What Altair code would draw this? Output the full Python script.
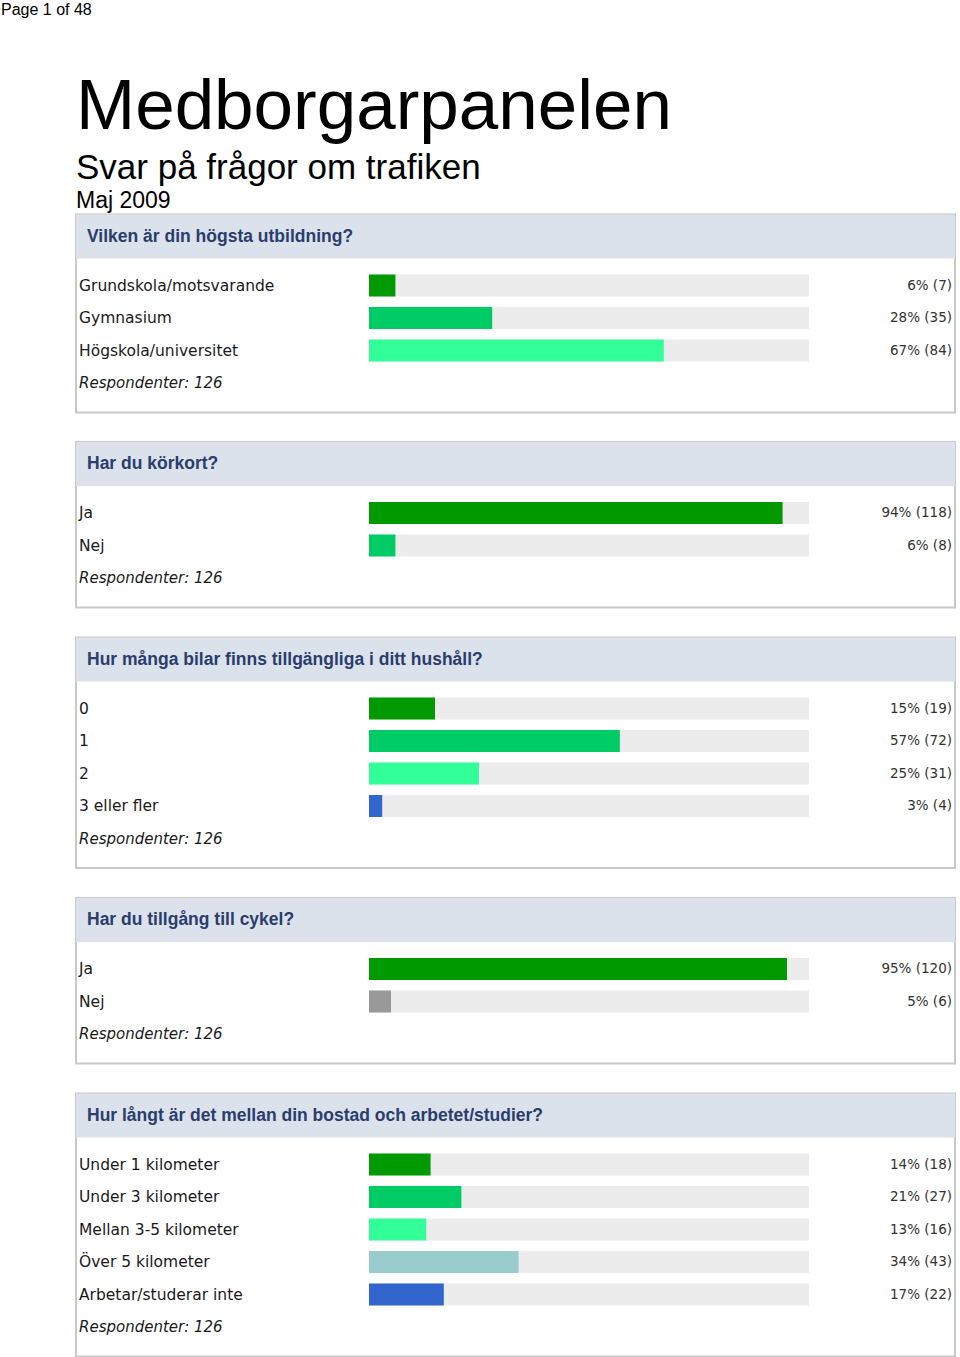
import altair as alt
import pandas as pd

# ---------------- text ----------------
page_label = "Page 1 of 48"
main_title = "Medborgarpanelen"
sub_title = "Svar på frågor om trafiken"
date_label = "Maj 2009"
respondents = 126

# ---------------- data ----------------
q1 = "Vilken är din högsta utbildning?"
q1_labels = ["Grundskola/motsvarande", "Gymnasium", "Högskola/universitet"]
q1_pct = [6, 28, 67]
q1_count = [7, 35, 84]

q2 = "Har du körkort?"
q2_labels = ["Ja", "Nej"]
q2_pct = [94, 6]
q2_count = [118, 8]

q3 = "Hur många bilar finns tillgängliga i ditt hushåll?"
q3_labels = ["0", "1", "2", "3 eller fler"]
q3_pct = [15, 57, 25, 3]
q3_count = [19, 72, 31, 4]

q4 = "Har du tillgång till cykel?"
q4_labels = ["Ja", "Nej"]
q4_pct = [95, 5]
q4_count = [120, 6]

q5 = "Hur långt är det mellan din bostad och arbetet/studier?"
q5_labels = ["Under 1 kilometer", "Under 3 kilometer", "Mellan 3-5 kilometer",
             "Över 5 kilometer", "Arbetar/studerar inte"]
q5_pct = [14, 21, 13, 34, 17]
q5_count = [18, 27, 16, 43, 22]

# ---------------- styles ----------------
DG, G, LG, BL, GR, TE = "#009900", "#00cc66", "#33ff99", "#3366cc", "#999999", "#99cccc"
q1_colors = [DG, G, LG]
q2_colors = [DG, G]
q3_colors = [DG, G, LG, BL]
q4_colors = [DG, GR]
q5_colors = [DG, G, LG, TE, BL]

PANEL_W = 879
ROW_STEP = 32.5
FIRST_ROW = 71
LABEL_FONT = "DejaVu Sans"


def panel(question, labels, pct, counts, colors):
    n = len(labels)
    height = FIRST_ROW + ROW_STEP * n + 29.5
    df = pd.DataFrame({
        "row": list(range(n)),
        "label": labels,
        "pct": pct,
        "full": [100] * n,
        "txt": [f"{p}% ({c})" for p, c in zip(pct, counts)],
    })
    resp = pd.DataFrame({"row": [n], "txt": [f"Respondenter: {respondents}"]})
    head = pd.DataFrame({"q": [question]})

    ys = alt.Scale(domain=[0, 1], range=[FIRST_ROW, FIRST_ROW + ROW_STEP],
                   zero=False, nice=False, padding=0)
    xs = alt.Scale(domain=[0, 100], range=[293, 733], zero=True, nice=False, padding=0)
    Y = alt.Y("row:Q", scale=ys, axis=None)

    band = alt.Chart(head).mark_rect(color="#dce2ec").encode(
        x=alt.value(0), x2=alt.value(PANEL_W), y=alt.value(0), y2=alt.value(44))
    qtext = alt.Chart(head).mark_text(
        align="left", baseline="middle", font="Liberation Sans", fontWeight="bold",
        fontSize=17.5, color="#2a3d6c").encode(
        x=alt.value(11), y=alt.value(22), text="q:N")

    track = alt.Chart(df).mark_bar(orient="horizontal", size=22, color="#ececec").encode(
        x=alt.X("full:Q", scale=xs, axis=None), y=Y)
    bars = alt.Chart(df).mark_bar(orient="horizontal", size=22).encode(
        x=alt.X("pct:Q", scale=xs, axis=None), y=Y,
        color=alt.Color("label:N", scale=alt.Scale(domain=labels, range=colors), legend=None))
    lab = alt.Chart(df).mark_text(
        align="left", baseline="middle", font=LABEL_FONT, fontSize=15.5, color="#1a1a1a").encode(
        x=alt.value(3), y=Y, text="label:N")
    val = alt.Chart(df).mark_text(
        align="right", baseline="middle", font=LABEL_FONT, fontSize=13.5, color="#333333").encode(
        x=alt.value(876), y=Y, text="txt:N")
    rs = alt.Chart(resp).mark_text(
        align="left", baseline="middle", font=LABEL_FONT, fontSize=15, fontStyle="italic",
        color="#1a1a1a").encode(x=alt.value(3), y=Y, text="txt:N")

    return alt.layer(band, qtext, track, bars, lab, val, rs).resolve_scale(
        color="independent").properties(width=PANEL_W, height=height)


SPACING = 29.5
header_df = pd.DataFrame({
    "txt": [page_label, main_title, sub_title, date_label],
    "kind": ["page", "title", "sub", "date"],
})


def htext(kind, x, y, size):
    return alt.Chart(header_df).transform_filter(alt.datum.kind == kind).mark_text(
        align="left", baseline="alphabetic", font="Liberation Sans", fontSize=size,
        color="#000000").encode(x=alt.value(x), y=alt.value(y), text="txt:N")


header = alt.layer(
    htext("page", -75, 14, 16),
    htext("title", 0, 128, 71),
    htext("sub", 0, 178, 35),
    htext("date", 0, 207, 23),
).properties(width=PANEL_W, height=213 - SPACING,
             view=alt.ViewBackground(stroke="transparent"))

chart = alt.vconcat(
    header,
    panel(q1, q1_labels, q1_pct, q1_count, q1_colors),
    panel(q2, q2_labels, q2_pct, q2_count, q2_colors),
    panel(q3, q3_labels, q3_pct, q3_count, q3_colors),
    panel(q4, q4_labels, q4_pct, q4_count, q4_colors),
    panel(q5, q5_labels, q5_pct, q5_count, q5_colors),
    spacing=SPACING, bounds="flush",
).properties(
    padding={"left": 0, "top": 0, "right": 0, "bottom": 0},
    background="white",
).configure_view(stroke="#c8c8c8", strokeWidth=2)

chart.save("out.html", embed_options={"renderer": "svg", "actions": False})
